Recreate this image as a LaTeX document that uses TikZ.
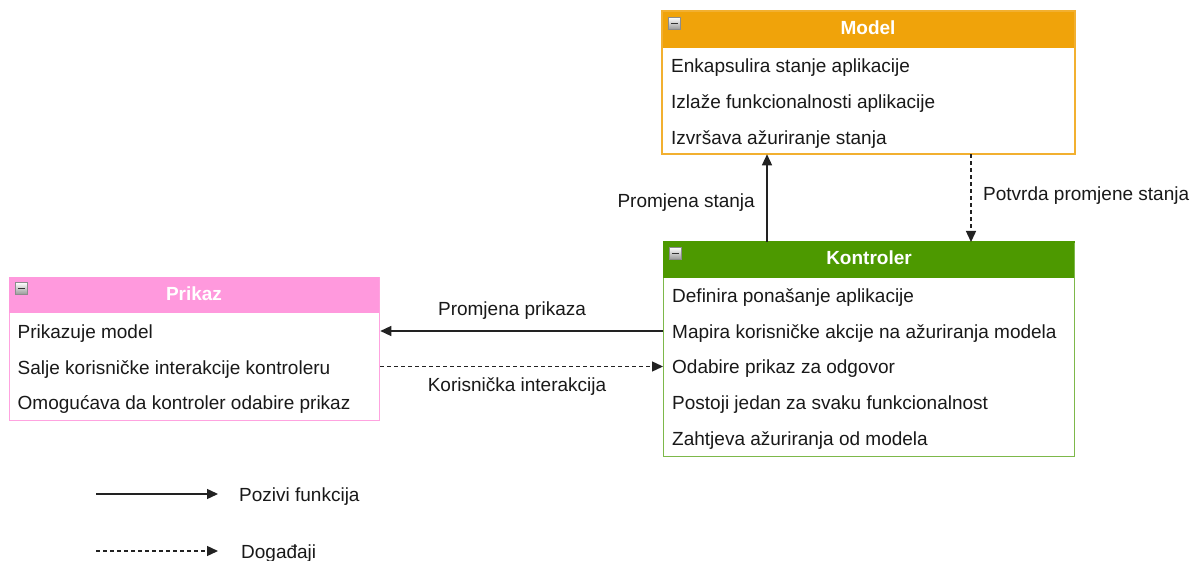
\documentclass[tikz,border=0pt]{standalone}
\usepackage{fontspec}
\setmainfont{Liberation Sans}
\usetikzlibrary{arrows.meta,calc}
\definecolor{morange}{HTML}{F0A30A}
\definecolor{morangel}{HTML}{F2B030}
\definecolor{kgreen}{HTML}{4D9900}
\definecolor{kgreenl}{HTML}{7DB84A}
\definecolor{ppink}{HTML}{FF99DD}
\definecolor{ppinkl}{HTML}{FFA3E0}
\definecolor{linec}{HTML}{222222}
\tikzset{
  txt/.style={font=\fontsize{19}{22}\selectfont, text=black!90, inner sep=0, anchor=base west},
  ttl/.style={font=\fontsize{19}{22}\selectfont\bfseries, text=white, inner sep=0, anchor=base},
  lbl/.style={font=\fontsize{19}{22}\selectfont, text=black!90, inner sep=0, anchor=base},
  boxbody/.style={draw=#1, line width=1.3pt, fill=white, inner sep=0, anchor=north west},
  boxhead/.style={fill=#1, inner sep=0, anchor=north west},
  minusicon/.style={draw=black!45, line width=0.7pt, top color=white, bottom color=black!40,
    minimum width=12pt, minimum height=12pt, inner sep=0, anchor=north west,
    path picture={\draw[line width=1.6pt, black!80] ($(path picture bounding box.west)+(2.5pt,0)$) -- ($(path picture bounding box.east)+(-2.5pt,0)$);}},
  callarrow/.style={draw=linec, line width=1.4pt, -{Triangle[length=11pt,width=10pt]}},
  eventarrow/.style={draw=linec, line width=1.4pt, dash pattern=on 4pt off 3pt, -{Triangle[length=11pt,width=10pt]}},
}
\begin{document}
\begin{tikzpicture}[x=1pt,y=-1pt]
\fill[white] (0,0) rectangle (1191,561);
\useasboundingbox (0,0) rectangle (1191,561);

% ---------- Model ----------
\node[boxbody=morangel, minimum width=412pt, minimum height=142pt] (model) at (662,11) {};
\node[boxhead=morange, minimum width=412pt, minimum height=37pt] (modelh) at (662,11) {};
\draw[morangel, line width=1.3pt] (model.north west) rectangle (model.south east);
\node[minusicon] (modelicon) at (668,17) {};
\node[ttl] (modelt) at (868,34.5) {Model};
\node[txt] (m1) at (671,72.5) {Enkapsulira stanje aplikacije};
\node[txt] (m2) at (671,108.5) {Izlaže funkcionalnosti aplikacije};
\node[txt] (m3) at (671,144.5) {Izvršava ažuriranje stanja};

% ---------- Kontroler ----------
\node[boxbody=kgreenl, minimum width=411pt, minimum height=214pt] (kont) at (663,242) {};
\node[boxhead=kgreen, minimum width=411pt, minimum height=36pt] (konth) at (663,242) {};
\draw[kgreen, line width=1.3pt] (kont.north west) -- (kont.north east);
\node[minusicon] (konticon) at (669,247) {};
\node[ttl] (kontt) at (869,264.5) {Kontroler};
\node[txt] (k1) at (672,302.7) {Definira ponašanje aplikacije};
\node[txt] (k2) at (672,338.2) {Mapira korisničke akcije na ažuriranja modela};
\node[txt] (k3) at (672,373.7) {Odabire prikaz za odgovor};
\node[txt] (k4) at (672,409.5) {Postoji jedan za svaku funkcionalnost};
\node[txt] (k5) at (672,445.2) {Zahtjeva ažuriranja od modela};

% ---------- Prikaz ----------
\node[boxbody=ppinkl, minimum width=370pt, minimum height=143pt] (prik) at (9,277) {};
\node[boxhead=ppink, minimum width=370pt, minimum height=36pt] (prikh) at (9,277) {};
\node[minusicon] (prikicon) at (15,282) {};
\node[ttl] (prikt) at (194,300.3) {Prikaz};
\node[txt] (p1) at (17.5,338.3) {Prikazuje model};
\node[txt] (p2) at (17.5,374) {Salje korisničke interakcije kontroleru};
\node[txt] (p3) at (17.5,409.5) {Omogućava da kontroler odabire prikaz};

% ---------- connectors ----------
\coordinate (cx1) at (767,0);
\coordinate (cx2) at (971,0);
\coordinate (cy1) at (0,331);
\coordinate (cy2) at (0,366.5);
\draw[callarrow] (kont.north -| cx1) -- (model.south -| cx1);
\node[lbl, anchor=base east] (lstanja) at (755,208) {Promjena stanja};
\draw[eventarrow] (model.south -| cx2) -- (kont.north -| cx2);
\node[lbl, anchor=base west] (lpotvrda) at (983,201) {Potvrda promjene stanja};
\draw[callarrow] (kont.west |- cy1) -- (prik.east |- cy1);
\node[lbl] (lprikaza) at (512,316) {Promjena prikaza};
\draw[eventarrow] (prik.east |- cy2) -- (kont.west |- cy2);
\node[lbl] (linter) at (517,391.5) {Korisnička interakcija};

% ---------- legend ----------
\coordinate (ls1) at (96,494);
\coordinate (le1) at (218,494);
\coordinate (ls2) at (96,551);
\coordinate (le2) at (218,551);
\draw[callarrow] (ls1) -- (le1);
\node[txt] (lg1) at (239,501.5) {Pozivi funkcija};
\draw[eventarrow] (ls2) -- (le2);
\node[txt] (lg2) at (241,558) {Događaji};
\end{tikzpicture}
\end{document}
